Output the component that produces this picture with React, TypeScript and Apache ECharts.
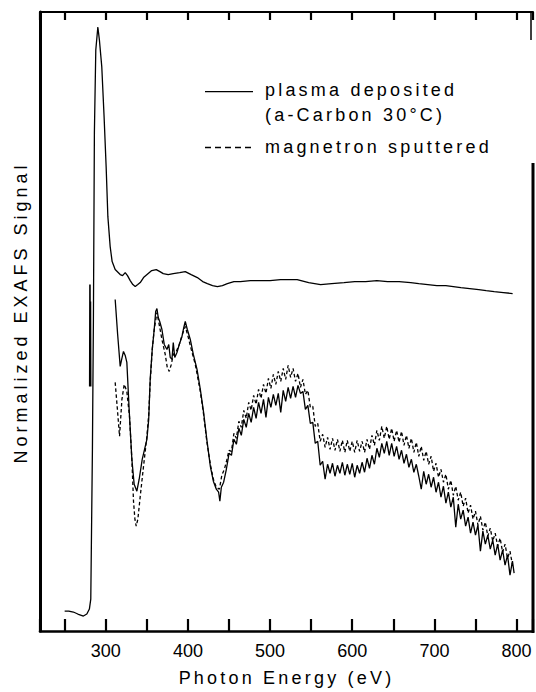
import React, { useEffect, useRef } from "react";
import * as echarts from "echarts";

// ---------- data (x = photon energy in eV, y = normalized signal, arbitrary units) ----------
const xTickValues = [250, 300, 350, 400, 450, 500, 550, 600, 650, 700, 750, 800];
const xLabelValues = [300, 400, 500, 600, 700, 800];
const xTitle = "Photon Energy (eV)";
const yTitle = "Normalized EXAFS Signal";
const legendLabels = ["plasma deposited", "(a-Carbon 30°C)", "magnetron sputtered"];

// absorption spectrum (plasma deposited), upper trace
const plasmaAbsorption: [number, number][] = [
  [250, 20], [255, 20], [260.6, 19], [266, 17], [272.8, 15], [277, 17], [280.1, 22], [281.8, 32],
  [283.8, 182], [285, 312], [286.2, 499], [287.9, 582], [290.4, 605], [292.3, 592], [295.2, 565],
  [298, 515], [300.5, 465], [302.6, 415], [305.4, 385], [307.8, 370], [311.5, 362], [317.6, 357],
  [320.5, 356], [323.7, 359], [326.5, 356], [329.8, 351], [333, 347], [335.9, 345], [339, 347],
  [342, 349], [346, 354], [351.7, 358], [356, 361], [361.5, 362], [366, 360], [370, 358],
  [376, 357], [382.2, 358], [390, 359], [396.8, 360], [404, 357], [411.5, 354], [418, 350],
  [423.7, 348], [430, 346], [435.9, 345], [442, 346], [448, 348], [456, 350], [463.9, 350],
  [476, 351], [488.3, 351], [500, 351], [512.7, 352], [522, 352], [533, 352], [547, 349],
  [561.5, 347], [575, 348], [590, 349], [603, 350], [616.3, 350], [630, 351], [643, 350],
  [657, 350], [671.2, 349], [681, 348], [692, 347], [703, 346], [713.9, 346], [723, 345],
  [732.2, 344], [743, 343], [754, 342], [763, 341], [772.8, 340], [784, 339], [795.2, 338],
];

// narrow glitch at the carbon edge (plasma deposited EXAFS)
const plasmaGlitch: [number, number][] = [
  [280.5, 245], [280.8, 347], [281.1, 250], [281.4, 330], [281.7, 245],
];

// EXAFS trace, plasma deposited (solid)
const plasmaExafs: [number, number][] = [
  [311.5, 332], [314.5, 297], [317.6, 265], [319.4, 272], [321.6, 280], [323.7, 276], [325.7, 269],
  [328.5, 222], [331.8, 172], [334.6, 147], [337.9, 140], [340.7, 152], [344.4, 172], [350.1, 192],
  [352.3, 212], [354.1, 252], [356.6, 282], [359, 302], [360.8, 320], [362.3, 323], [363.9, 314],
  [365.7, 310], [368.4, 302], [371.2, 287], [374.5, 282], [376.7, 287], [378.5, 274], [380.6, 272],
  [382.2, 289], [384, 274], [386.7, 279], [389.5, 287], [392.8, 295], [395, 304], [396.8, 310],
  [399.3, 302], [402.9, 292], [406.6, 277], [411.1, 262], [415.1, 242], [419.1, 219], [423, 192],
  [427.3, 165], [431, 150], [434.6, 142], [437.4, 139], [438.9, 130], [440.7, 144], [443.5, 149],
  [446.8, 162], [449.3, 174],
  [450, 178], [453, 176], [456, 192], [459, 187], [462, 203], [465, 196], [468, 212], [471, 204],
  [474, 218], [477, 209], [480, 224], [483, 213], [486, 229], [489, 218], [492, 232], [495, 214],
  [498, 234], [501, 224], [504, 237], [507, 226], [510, 238], [513, 219], [516, 241], [519, 230],
  [522, 244], [525, 233], [528, 245], [531, 234], [534, 246], [537, 238], [540, 240], [543, 222],
  [546, 226], [549, 208], [552, 209], [555, 188], [558, 190], [561, 166], [564, 170], [567, 152],
  [570, 167], [573, 158], [576, 168], [579, 155], [582, 166], [585, 158], [588, 169], [591, 156],
  [594, 167], [597, 157], [600, 168], [603, 154], [606, 166], [609, 158], [612, 169], [615, 159],
  [618, 173], [621, 163], [624, 176], [627, 167], [630, 183], [633, 174], [636, 188], [639, 178],
  [642, 190], [645, 176], [648, 188], [651, 175], [654, 185], [657, 172], [660, 181], [663, 168],
  [666, 177], [669, 164], [672, 172], [675, 159], [678, 167], [681, 155], [684, 142], [687, 160],
  [690, 147], [693, 157], [696, 144], [699, 154], [702, 139], [705, 149], [708, 134], [711, 145],
  [714, 128], [717, 139], [720, 124], [723, 134], [726, 104], [729, 127], [732, 112], [735, 121],
  [738, 105], [741, 114], [744, 98], [747, 109], [750, 96], [753, 106], [756, 80], [759, 100],
  [762, 87], [765, 96], [768, 82], [771, 91], [774, 76], [777, 87], [780, 71], [783, 81],
  [786, 66], [789, 76], [792, 56], [795, 70], [797, 58],
];

// EXAFS trace, magnetron sputtered (dashed)
const magnetronExafs: [number, number][] = [
  [311.5, 249], [314.2, 222], [316.8, 195], [319.7, 232], [322.5, 247], [325.7, 240], [328.9, 215],
  [331.8, 172], [333.8, 130], [335.5, 112], [337.1, 105], [339.1, 112], [342, 135], [346, 165],
  [350.1, 195], [352.3, 217], [354.1, 249], [356.6, 282], [359, 302], [362.3, 319], [364.4, 310],
  [368.4, 292], [372.4, 277], [374.9, 264], [377.3, 260], [379.8, 267], [382.2, 277], [385.9, 280],
  [389.5, 287], [393.2, 297], [396.8, 305], [400.5, 294], [404.1, 282], [409, 267], [415.1, 240],
  [419.1, 217], [423, 190], [427.3, 167], [431, 152], [434.6, 144], [438.3, 142], [441.3, 156],
  [444.4, 162], [447, 170],
  [450, 181], [453, 180], [456, 198], [459, 193], [462, 210], [465, 204], [468, 221], [471, 213],
  [474, 229], [477, 221], [480, 236], [483, 227], [486, 242], [489, 233], [492, 247], [495, 238],
  [498, 253], [501, 243], [504, 257], [507, 247], [510, 260], [513, 250], [516, 263], [519, 252],
  [522, 266], [525, 254], [528, 263], [531, 250], [534, 258], [537, 244], [540, 252], [543, 237],
  [546, 241], [549, 224], [552, 225], [555, 205], [558, 208], [561, 190], [564, 197], [567, 184],
  [570, 194], [573, 182], [576, 193], [579, 181], [582, 192], [585, 180], [588, 191], [591, 179],
  [594, 191], [597, 180], [600, 190], [603, 179], [606, 191], [609, 180], [612, 190], [615, 179],
  [618, 192], [621, 182], [624, 196], [627, 186], [630, 201], [633, 191], [636, 205], [639, 193],
  [642, 205], [645, 192], [648, 203], [651, 190], [654, 201], [657, 189], [660, 200], [663, 186],
  [666, 196], [669, 183], [672, 193], [675, 179], [678, 189], [681, 175], [684, 185], [687, 171],
  [690, 180], [693, 167], [696, 175], [699, 160], [702, 168], [705, 154], [708, 162], [711, 149],
  [714, 157], [717, 142], [720, 151], [723, 136], [726, 145], [729, 131], [732, 139], [735, 125],
  [738, 133], [741, 118], [744, 126], [747, 112], [750, 120], [753, 106], [756, 115], [759, 101],
  [762, 109], [765, 95], [768, 103], [771, 90], [774, 98], [777, 85], [780, 93], [783, 79],
  [786, 87], [789, 73], [792, 80], [795, 66],
];

const X_MIN = 220;
const X_MAX = 820;
const X_STEP = 50;
const Y_MIN = 0;
const Y_MAX = 620;

const FONT = "'Liberation Sans', Arial, Helvetica, sans-serif";
const INK = "#000";

export default function App() {
  const ref = useRef<HTMLDivElement | null>(null);

  useEffect(() => {
    const el = ref.current;
    if (!el) return;
    const chart = echarts.init(el, null, { renderer: "svg" });

    const lineSeries = (name: string, data: [number, number][], dashed: boolean, width: number) => ({
      type: "line",
      name,
      data,
      showSymbol: false,
      symbol: "none",
      silent: true,
      smooth: false,
      z: 3,
      lineStyle: { color: INK, width, type: dashed ? [3.5, 2.5] : "solid" },
    });

    const textStyle = (text: string) => ({
      text,
      fontSize: 18,
      fontFamily: FONT,
      fill: INK,
      textAlign: "left",
      textVerticalAlign: "middle",
      verticalAlign: "middle",
    });

    const tickShown = (v: number) => xTickValues.indexOf(Math.round(v)) >= 0;

    chart.setOption({
      animation: false,
      backgroundColor: "#fff",
      grid: { left: 40, top: 12, width: 493, height: 620 },
      xAxis: [
        {
          type: "value",
          min: X_MIN,
          max: X_MAX,
          minInterval: X_STEP,
          maxInterval: X_STEP,
          position: "bottom",
          axisLine: { show: true, onZero: false, lineStyle: { color: INK, width: 2.6 } },
          axisTick: { show: true, inside: true, length: 12, lineStyle: { color: INK, width: 2.2 } },
          splitLine: { show: false },
          axisLabel: {
            color: INK,
            fontSize: 18,
            fontFamily: FONT,
            margin: 11,
            formatter: (v: number) =>
              xLabelValues.indexOf(Math.round(v)) >= 0 && tickShown(v) ? String(Math.round(v)) : "",
          },
          name: xTitle,
          nameLocation: "middle",
          nameGap: 38,
          nameTextStyle: { color: INK, fontSize: 18, fontFamily: FONT },
        },
        {
          type: "value",
          min: X_MIN,
          max: X_MAX,
          minInterval: X_STEP,
          maxInterval: X_STEP,
          position: "top",
          axisLine: { show: true, onZero: false, lineStyle: { color: INK, width: 2 } },
          axisTick: { show: true, inside: true, length: 8, lineStyle: { color: INK, width: 2.2 } },
          axisLabel: { show: false },
          splitLine: { show: false },
        },
      ],
      yAxis: {
        type: "value",
        min: Y_MIN,
        max: Y_MAX,
        axisLine: { show: true, onZero: false, lineStyle: { color: INK, width: 3 } },
        axisTick: { show: false },
        axisLabel: { show: false },
        splitLine: { show: false },
        name: yTitle,
        nameLocation: "middle",
        nameRotate: 90,
        nameGap: 10,
        nameTextStyle: { color: INK, fontSize: 18, fontFamily: FONT, padding: [0, 0, 0, 18] },
      },
      series: [
        lineSeries("plasma deposited (a-Carbon 30°C)", plasmaAbsorption, false, 1.3),
        lineSeries("plasma deposited (a-Carbon 30°C)", plasmaGlitch, false, 1.6),
        lineSeries("plasma deposited (a-Carbon 30°C)", plasmaExafs, false, 1.3),
        lineSeries("magnetron sputtered", magnetronExafs, true, 1.3),
      ],
      graphic: [
        // broken right-hand frame
        { type: "line", silent: true, shape: { x1: 531, y1: 12, x2: 531, y2: 40 }, style: { stroke: INK, lineWidth: 1.5 } },
        { type: "line", silent: true, shape: { x1: 533, y1: 163, x2: 533, y2: 633 }, style: { stroke: INK, lineWidth: 3 } },
        // legend
        { type: "line", silent: true, shape: { x1: 205, y1: 91.7, x2: 253, y2: 91.7 }, style: { stroke: INK, lineWidth: 1.3 } },
        { type: "line", silent: true, shape: { x1: 205, y1: 147.5, x2: 253, y2: 147.5 }, style: { stroke: INK, lineWidth: 1.3, lineDash: [6, 4] } },
        { type: "text", silent: true, x: 265, y: 90, style: textStyle(legendLabels[0]) },
        { type: "text", silent: true, x: 265, y: 115, style: textStyle(legendLabels[1]) },
        { type: "text", silent: true, x: 265, y: 147, style: textStyle(legendLabels[2]) },
      ],
    });

    const spacing: Record<string, string> = {
      [xTitle]: "3.2px",
      [yTitle]: "4px",
      [legendLabels[0]]: "3.2px",
      [legendLabels[1]]: "3.2px",
      [legendLabels[2]]: "3.2px",
    };
    const applySpacing = () => {
      el.querySelectorAll("text").forEach((t) => {
        const s = spacing[(t.textContent || "").trim()];
        if (s) (t as SVGTextElement).style.letterSpacing = s;
      });
    };
    applySpacing();
    chart.on("finished", applySpacing);

    return () => {
      chart.dispose();
    };
  }, []);

  return (
    <div
      ref={ref}
      style={{ position: "fixed", left: 0, top: 0, width: 536, height: 692, background: "#fff" }}
    />
  );
}
